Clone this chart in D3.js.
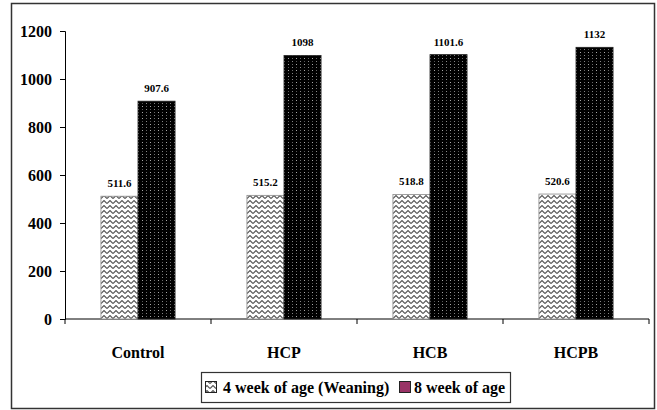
<!DOCTYPE html>
<html>
<head>
<meta charset="utf-8">
<script src="https://cdn.jsdelivr.net/npm/d3@7/dist/d3.min.js"></script>
<style>
  html, body { margin: 0; padding: 0; background: #fff; }
  svg { display: block; }
</style>
</head>
<body>
<svg id="chart" width="657" height="410"></svg>
<script>
// Body weight by group at two ages
const categories = ["Control", "HCP", "HCB", "HCPB"];
const seriesNames = ["4 week of age (Weaning)", "8 week of age"];
const week4 = [511.6, 515.2, 518.8, 520.6];
const week8 = [907.6, 1098, 1101.6, 1132];
const yTicks = [0, 200, 400, 600, 800, 1000, 1200];

const FONT = "Liberation Serif";
const svg = d3.select("#chart");
const plot = { left: 65, right: 649, top: 31, bottom: 319 };

function bold(sel, size) {
  return sel.attr("font-size", size).attr("fill", "#000")
    .style("font-family", FONT).style("font-weight", "bold");
}

// Patterns: grey zigzag for weaning, dark dotted for 8 weeks
const defs = svg.append("defs");
const zig = defs.append("pattern")
  .attr("id", "zigzag").attr("patternUnits", "userSpaceOnUse")
  .attr("width", 6).attr("height", 5);
zig.append("rect").attr("width", 6).attr("height", 5).attr("fill", "#fff");
zig.append("path").attr("d", "M0,3.5 L3,0.5 L6,3.5")
  .attr("fill", "none").attr("stroke", "#555").attr("stroke-width", 1.1);

const dots = defs.append("pattern")
  .attr("id", "dots").attr("patternUnits", "userSpaceOnUse")
  .attr("width", 8).attr("height", 6);
dots.append("rect").attr("width", 8).attr("height", 6).attr("fill", "#000");
dots.append("rect").attr("x", 1).attr("y", 1).attr("width", 1).attr("height", 1).attr("fill", "#888");
dots.append("rect").attr("x", 5).attr("y", 4).attr("width", 1).attr("height", 1).attr("fill", "#aaa");
dots.append("rect").attr("x", 5).attr("y", 1).attr("width", 1).attr("height", 1).attr("fill", "#555");
dots.append("rect").attr("x", 1).attr("y", 4).attr("width", 1).attr("height", 1).attr("fill", "#666");

// Outer frame
svg.append("rect")
  .attr("x", 11.5).attr("y", 3.5).attr("width", 643).attr("height", 405)
  .attr("fill", "#fff").attr("stroke", "#333").attr("stroke-width", 1.5);

const x0 = d3.scaleBand().domain(categories)
  .range([plot.left, plot.right]).paddingInner(0).paddingOuter(0);
const x1 = d3.scaleBand().domain([0, 1])
  .range([0, x0.bandwidth()]).paddingOuter(0.97).paddingInner(0);
const y = d3.scaleLinear().domain([0, 1200]).range([plot.bottom, plot.top]);

// Y axis
const yAxis = svg.append("g").attr("transform", `translate(${plot.left},0)`)
  .call(d3.axisLeft(y).tickValues(yTicks).tickSize(5).tickPadding(8).tickFormat(d3.format("d")));
yAxis.select(".domain").attr("stroke", "#000");
yAxis.selectAll(".tick line").attr("stroke", "#000");
bold(yAxis.selectAll("text"), 16).attr("dy", "0.36em");

// X axis with ticks between categories
const xAxis = svg.append("g").attr("transform", `translate(0,${plot.bottom})`);
xAxis.append("line").attr("x1", plot.left).attr("x2", plot.right)
  .attr("stroke", "#000");
const boundaries = categories.map(c => x0(c)).concat([plot.right]);
xAxis.selectAll(".bt").data(boundaries).join("line")
  .attr("x1", d => d).attr("x2", d => d).attr("y1", 0).attr("y2", 5)
  .attr("stroke", "#000");
bold(xAxis.selectAll(".cl").data(categories).join("text"), 16)
  .attr("x", d => x0(d) + x0.bandwidth() / 2).attr("y", 39)
  .attr("text-anchor", "middle")
  .text(d => d);

// Bars
const groups = svg.append("g").selectAll("g").data(categories).join("g")
  .attr("transform", d => `translate(${x0(d)},0)`);
const rows = categories.map((c, i) => [
  { s: 0, v: week4[i] }, { s: 1, v: week8[i] }
]);
groups.each(function (c, i) {
  const g = d3.select(this);
  g.selectAll("rect").data(rows[i]).join("rect")
    .attr("x", d => x1(d.s)).attr("width", x1.bandwidth())
    .attr("y", d => y(d.v)).attr("height", d => y(0) - y(d.v))
    .attr("fill", d => d.s === 0 ? "url(#zigzag)" : "url(#dots)")
    .attr("stroke", d => d.s === 0 ? "#888" : "#222").attr("stroke-width", 0.8);
  bold(g.selectAll("text").data(rows[i]).join("text"), 11)
    .attr("x", d => x1(d.s) + x1.bandwidth() / 2).attr("y", d => y(d.v) - 9)
    .attr("text-anchor", "middle")
    .text(d => d.v);
});

// Legend
const lg = svg.append("g");
lg.append("rect").attr("x", 201.5).attr("y", 372.5).attr("width", 309).attr("height", 30)
  .attr("fill", "#fff").attr("stroke", "#333").attr("stroke-width", 1.2);
lg.append("rect").attr("x", 205.5).attr("y", 381.5).attr("width", 11).attr("height", 11)
  .attr("fill", "url(#zigzag)").attr("stroke", "#222");
bold(lg.append("text"), 16).attr("x", 223).attr("y", 393).text(seriesNames[0]);
lg.append("rect").attr("x", 399.5).attr("y", 381.5).attr("width", 11).attr("height", 11)
  .attr("fill", "#993366").attr("stroke", "#222");
bold(lg.append("text"), 16).attr("x", 414).attr("y", 393).text(seriesNames[1]);
</script>
</body>
</html>
